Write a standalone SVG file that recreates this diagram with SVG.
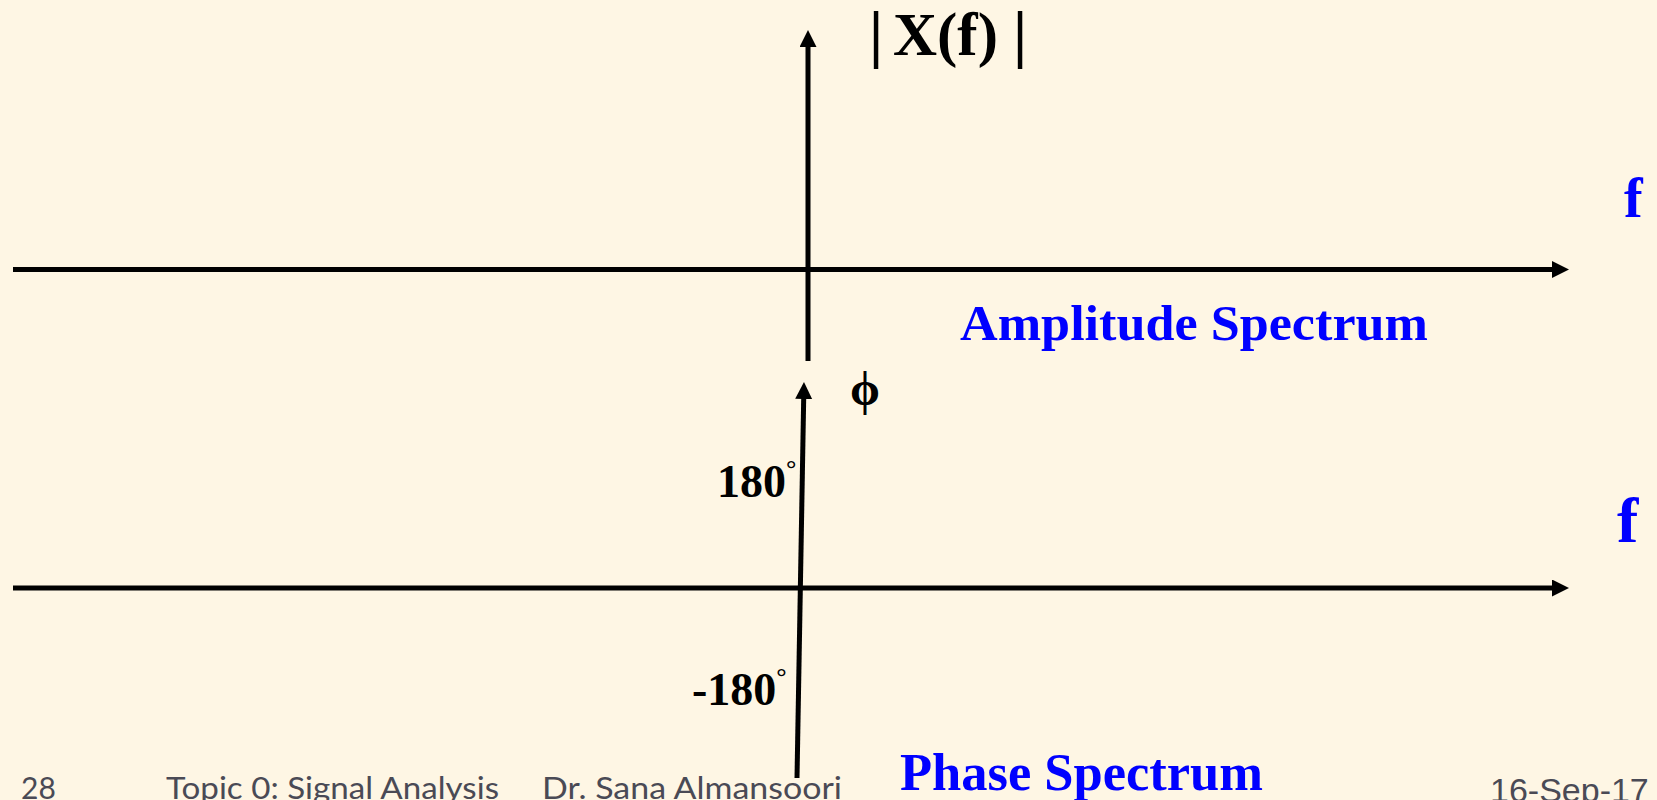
<svg xmlns="http://www.w3.org/2000/svg" width="1657" height="800" viewBox="0 0 1657 800">
<style>
.ax{stroke:#000;stroke-width:5;fill:none}
.lbl{font-family:"Liberation Serif","Times New Roman",serif;font-weight:bold;fill:#000}
.blue{font-family:"Liberation Serif","Times New Roman",serif;font-weight:bold;fill:#0000FF}
.foot{font-family:Lato,"Open Sans",sans-serif;fill:#4a4a55}
</style>
<defs>
<marker id="ah" markerUnits="userSpaceOnUse" markerWidth="18" markerHeight="18" refX="1" refY="8.5" orient="auto">
<path d="M0,0 L17,8.5 L0,17 z" fill="#000"/>
</marker>
</defs>
<rect width="1657" height="800" fill="#FEF6E4"/>
<g id="connectors">
<line class="ax" x1="13" y1="269.5" x2="1553" y2="269.5" marker-end="url(#ah)"/>
<line class="ax" x1="808" y1="361" x2="808" y2="46" marker-end="url(#ah)"/>
<line class="ax" x1="13" y1="588" x2="1553" y2="588" marker-end="url(#ah)"/>
<line class="ax" x1="797" y1="778" x2="803.7" y2="398" marker-end="url(#ah)"/>
</g>
<g id="amp-label"><text class="lbl" y="55"><tspan x="869" font-size="64">|</tspan><tspan x="893" font-size="61">X(f)</tspan><tspan x="1013" font-size="64">|</tspan></text></g>
<g id="f-top"><text class="blue" x="1624" y="217" font-size="56">f</text></g>
<g id="amp-title"><text class="blue" x="960" y="340" font-size="50" textLength="468" lengthAdjust="spacingAndGlyphs">Amplitude Spectrum</text></g>
<g id="phi-label"><text class="lbl" x="850" y="405" font-size="48">ϕ</text></g>
<g id="deg180"><text class="lbl" x="717" y="497" font-size="46">180<tspan font-size="26" dy="-20">°</tspan></text></g>
<g id="f-bottom"><text class="blue" x="1617" y="542" font-size="64">f</text></g>
<g id="degm180"><text class="lbl" x="692" y="705" font-size="46">-180<tspan font-size="26" dy="-20">°</tspan></text></g>
<g id="phase-title"><text class="blue" x="900" y="790" font-size="52" textLength="363" lengthAdjust="spacingAndGlyphs">Phase Spectrum</text></g>
<g id="footer">
<text class="foot" x="21" y="799" font-size="30">28</text>
<text class="foot" x="166" y="799" font-size="30" textLength="333" lengthAdjust="spacingAndGlyphs">Topic 0: Signal Analysis</text>
<text class="foot" x="542" y="799" font-size="30" textLength="300" lengthAdjust="spacingAndGlyphs">Dr. Sana Almansoori</text>
<text x="1490" y="802" font-size="34" font-family="Liberation Sans,Arial,sans-serif" fill="#4a4a55">16-Sep-17</text>
</g>
</svg>
